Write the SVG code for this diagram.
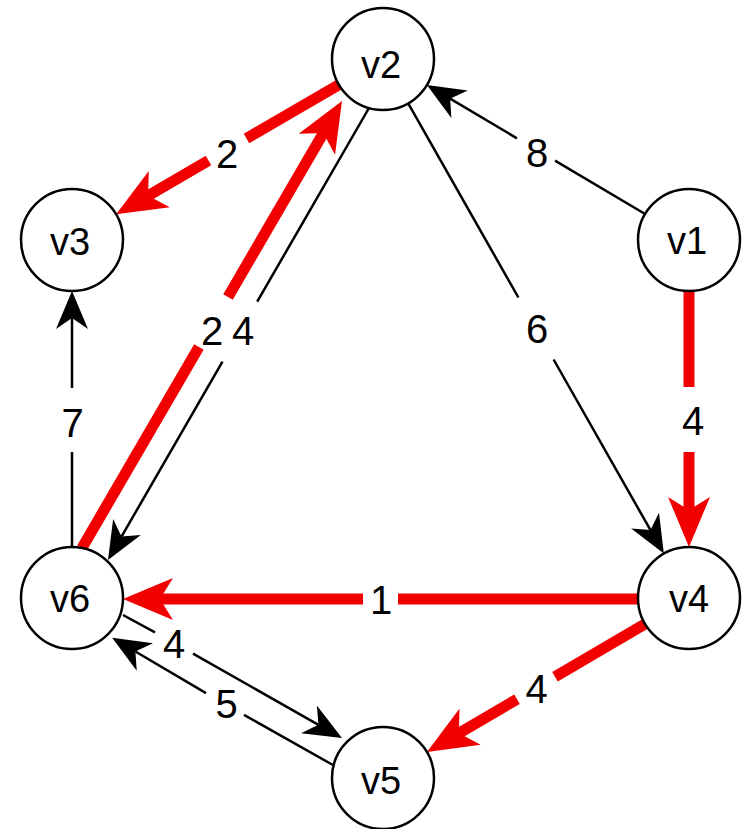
<svg xmlns="http://www.w3.org/2000/svg" width="746" height="829" viewBox="0 0 746 829">
<style>
.e{fill:none;stroke-linecap:butt}
.b{stroke:#000;stroke-width:2.5;marker-end:url(#ab)}
.r{stroke:#f20000;stroke-width:11;marker-end:url(#ar)}
.lbl{font-family:"Liberation Sans",Arial,sans-serif;font-size:40px;fill:#000;text-anchor:middle}
.node circle{fill:#fff;stroke:#000;stroke-width:2.5}
.node text{font-family:"Liberation Sans",Arial,sans-serif;font-size:38px;fill:#000;text-anchor:middle}
</style>
<defs>
<marker id="ab" markerUnits="userSpaceOnUse" markerWidth="38" markerHeight="32" viewBox="0 0 38 32" refX="11" refY="16" orient="auto"><path d="M38,16 L0,0 L11,16 L0,32 Z" fill="#000"/></marker>
<marker id="ar" markerUnits="userSpaceOnUse" markerWidth="50" markerHeight="42" viewBox="0 0 50 42" refX="13" refY="21" orient="auto"><path d="M50,21 L0,0 L13,21 L0,42 Z" fill="#f20000"/></marker>
</defs>
<rect width="746" height="829" fill="#fff"/>
<g id="connectors">
<g id="e-v1-v2"><path class="e b" d="M645.1,214 L555,160.7 M517,138.3 L450.1,98.7"/><text class="lbl" x="537" y="167">8</text></g>
<g id="e-v2-v4"><path class="e b" d="M408.2,103.3 L518.4,297.5 M553.6,359.5 L650.5,530.1"/><text class="lbl" x="537" y="343">6</text></g>
<g id="e-v1-v4"><path class="e r" d="M689,291 L689,387 M689,452 L689,510"/><text class="lbl" x="693" y="435">4</text></g>
<g id="e-v2-v3"><path class="e r" d="M338.9,84.7 L246.5,138.4 M208.5,160.6 L148.1,195.7"/><text class="lbl" x="227" y="168">2</text></g>
<g id="e-v6-v2"><path class="e r" d="M82,548 L198.9,347 M228,297 L323.4,133"/><text class="lbl" x="212" y="345">2</text></g>
<g id="e-v2-v6"><path class="e b" d="M369,108 L257.2,301.7 M222.5,361.7 L121.5,536.6"/><text class="lbl" x="243" y="345">4</text></g>
<g id="e-v6-v3"><path class="e b" d="M72,547 L72,452 M72,388 L72,318"/><text class="lbl" x="72.5" y="437">7</text></g>
<g id="e-v4-v6"><path class="e r" d="M638,599 L398,599 M363,599 L160,599"/><text class="lbl" x="381" y="614">1</text></g>
<g id="e-v6-v5"><path class="e b" d="M123,615 L155,632.3 M193,653.7 L318.5,724.8"/><text class="lbl" x="174" y="658">4</text></g>
<g id="e-v5-v6"><path class="e b" d="M333,765 L244,714.9 M206,693.1 L135.4,651.5"/><text class="lbl" x="226.5" y="718">5</text></g>
<g id="e-v4-v5"><path class="e r" d="M645,623.9 L555,676.8 M517,699.2 L458.9,733.3"/><text class="lbl" x="536.5" y="703">4</text></g>
</g>
<g id="v1" class="node"><circle cx="689" cy="240" r="51"/><text x="687" y="254">v1</text></g>
<g id="v2" class="node"><circle cx="383" cy="59" r="51"/><text x="381" y="78">v2</text></g>
<g id="v3" class="node"><circle cx="72" cy="240" r="51"/><text x="70" y="255">v3</text></g>
<g id="v4" class="node"><circle cx="689" cy="598" r="51"/><text x="689" y="612">v4</text></g>
<g id="v5" class="node"><circle cx="383" cy="778" r="51"/><text x="381" y="794">v5</text></g>
<g id="v6" class="node"><circle cx="72" cy="598" r="51"/><text x="70" y="612">v6</text></g>
</svg>
